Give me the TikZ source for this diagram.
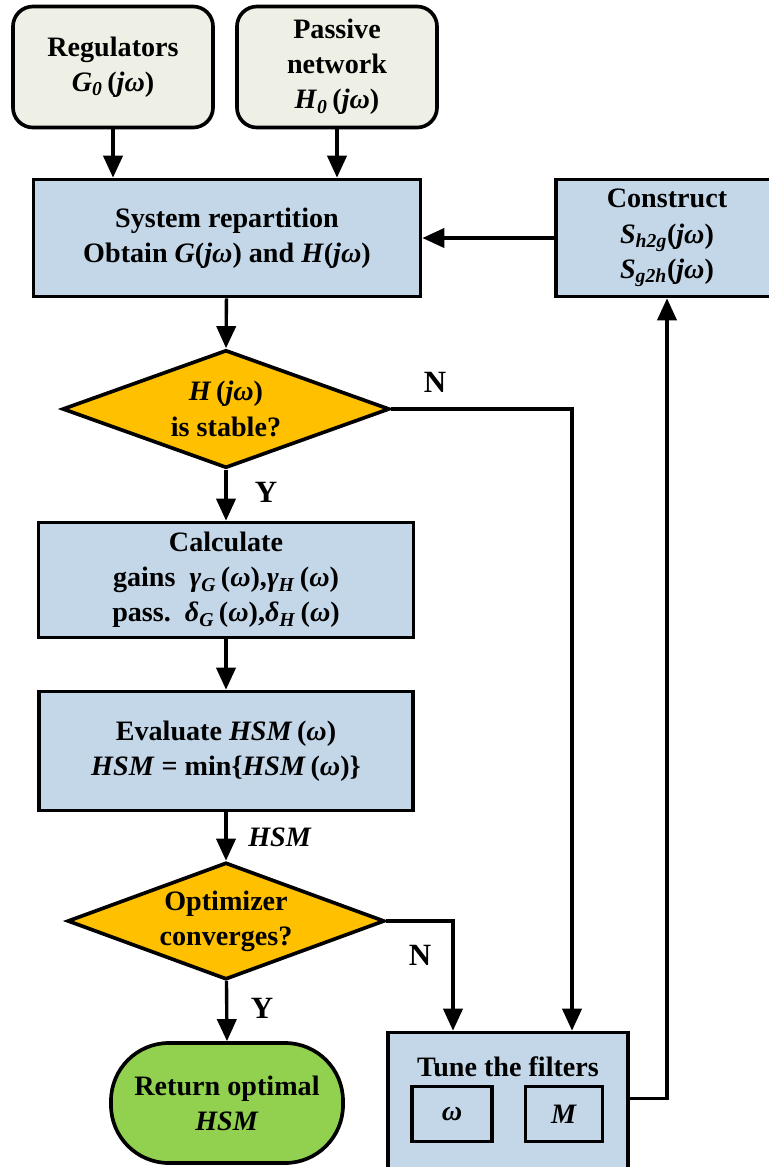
\documentclass[tikz,border=0pt]{standalone}
\usepackage{fontspec}
\setmainfont{Liberation Serif}
\usetikzlibrary{shapes.geometric,arrows.meta}
\definecolor{procblue}{HTML}{C4D7E8}
\definecolor{inputgrey}{HTML}{EEF0E5}
\definecolor{testamber}{HTML}{FFC000}
\definecolor{endgreen}{HTML}{92D050}
\newcommand{\vi}[1]{\textit{#1}}
\newcommand{\vsub}[1]{\textsubscript{\textit{#1}}}

\begin{document}
\begin{tikzpicture}[
    x=0.025cm, y=-0.025cm,
    every node/.style={font=\fontsize{20}{25}\selectfont\bfseries, align=center},
    inbox/.style={draw, line width=2.6pt, fill=inputgrey, rounded corners=0.5cm,
      minimum width=5cm, minimum height=3.025cm},
    procbox/.style={draw, line width=2.6pt, fill=procblue, minimum height=2.925cm},
    test/.style={diamond, aspect=2.6, draw, line width=2.6pt, fill=testamber, inner sep=0pt},
    parbox/.style={draw, line width=2.8pt, fill=procblue, minimum height=1.375cm},
    flow/.style={line width=2.4pt, -{Triangle[length=0.55cm, width=0.48cm]}},
    yn/.style={font=\fontsize{22}{25}\selectfont\bfseries},
  ]
  \useasboundingbox (0,0) rectangle (769,1167);

  % ---- inputs
  \node[inbox] (reg) at (113,67) {Regulators\\\vi{G}\vsub{0}\,(\vi{jω})};
  \node[inbox] (pas) at (337,67) {Passive\\network\\\vi{H}\vsub{0}\,(\vi{jω})};

  % ---- main column
  \node[procbox, minimum width=9.675cm] (sys) at (227,238)
    {System repartition\\Obtain \vi{G}(\vi{jω}) and \vi{H}(\vi{jω})};
  \node[procbox, minimum width=5.55cm] (con) at (667,238)
    {Construct\\\vi{S}\vsub{h2g}(\vi{jω})\\\vi{S}\vsub{g2h}(\vi{jω})};
  \node[test, minimum width=8.175cm, minimum height=2.95cm] (stab) at (226,409)
    {\vi{H}\,(\vi{jω})\\is stable?};
  \node[procbox, minimum width=9.375cm, minimum height=2.875cm] (calc) at (226,580)
    {Calculate\\gains\ \ \vi{γ}\vsub{G}\,(\vi{ω}),\vi{γ}\vsub{H}\,(\vi{ω})\\pass.\ \ \vi{δ}\vsub{G}\,(\vi{ω}),\vi{δ}\vsub{H}\,(\vi{ω})};
  \node[procbox, minimum width=9.35cm, minimum height=2.975cm] (eval) at (226,751)
    {Evaluate \vi{HSM}\,(\vi{ω})\\\vi{HSM} = min\{\vi{HSM}\,(\vi{ω})\}};
  \node[test, minimum width=7.925cm, minimum height=2.925cm] (conv) at (226,921)
    {Optimizer\\converges?};
  \node[draw, line width=2.6pt, fill=endgreen, rounded corners=1.45cm,
    minimum width=5.8cm, minimum height=3cm] (ret) at (227,1103)
    {Return optimal\\\vi{HSM}};

  % ---- filter tuning
  \node[procbox, minimum width=6cm, minimum height=3.675cm] (tune) at (508,1106) {};
  \node (tunetxt) at (508,1067) {Tune the filters};
  \node[parbox, minimum width=2cm] (om) at (452,1114) {\vi{ω}};
  \node[parbox, minimum width=1.925cm] (mm) at (564,1114) {\vi{M}};

  % ---- connectors
  \draw[flow] (reg) -- (reg |- sys.north);
  \draw[flow] (pas) -- (pas |- sys.north);
  \draw[flow] (con.west) -- (sys.east);
  \draw[flow] (sys) -- (stab.north);
  \draw[flow] (stab) -- (calc.north);
  \draw[flow] (calc) -- (eval.north);
  \draw[flow] (eval) -- (conv.north);
  \draw[flow] (conv) -- (ret.north);
  \draw[flow] (stab.east) -| ([xshift=1.6cm]tune.north);
  \draw[flow] (conv.east) -| ([xshift=-1.375cm]tune.north);
  \draw[flow] ([yshift=0.19cm]tune.east) -| (con.south);

  % ---- branch labels
  \node[yn] at (435,382) {N};
  \node[yn] at (266,492) {Y};
  \node at (280,837) {\vi{HSM}};
  \node[yn] at (420,955) {N};
  \node[yn] at (262,1008) {Y};
\end{tikzpicture}
\end{document}
